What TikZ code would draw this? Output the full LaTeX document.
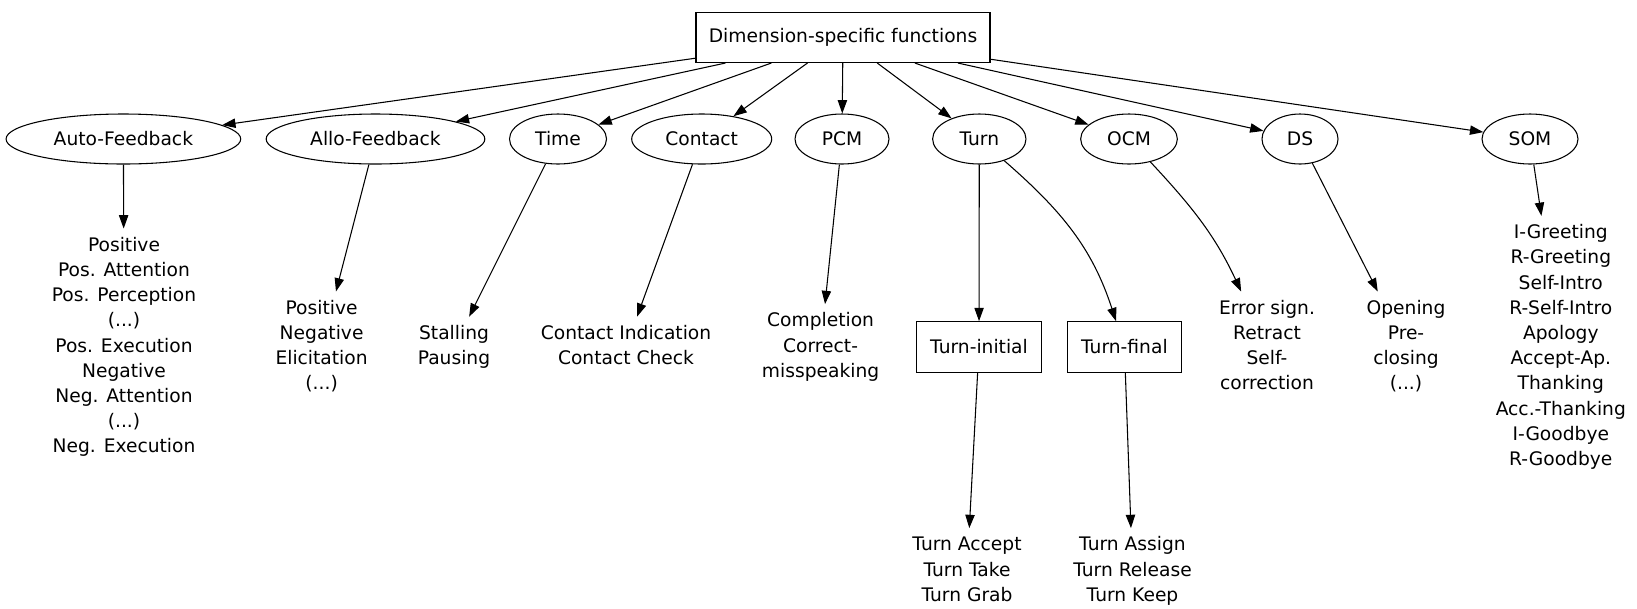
\documentclass[tikz,border=0pt]{standalone}
\usepackage{fontspec}
\setmainfont{DejaVu Sans}
\usetikzlibrary{arrows.meta,shapes.geometric,calc}
\begin{document}
\begin{tikzpicture}[x=0.75pt,y=-0.75pt,
 every node/.style={font=\fontsize{14pt}{18.9pt}\selectfont},
 box/.style={draw, rectangle, inner sep=0pt, line width=0.8pt},
 ell/.style={draw, ellipse, inner sep=0pt, minimum height=37.5pt, line width=0.8pt},
 tnode/.style={align=center, inner xsep=4pt, inner ysep=3.6pt},
 arr/.style={draw, line width=0.8pt, -{Triangle[length=10pt,width=7pt]}},
]
\useasboundingbox (0,0) rectangle (1637,608);
\node[box, minimum width=220.5pt, minimum height=37.5pt] (root) at (843,37.5) {Dimension-specific functions};

\node[ell, minimum width=176pt] (auto) at (123.4,139) {Auto-Feedback};
\node[ell, minimum width=164pt] (allo) at (375.5,139) {Allo-Feedback};
\node[ell, minimum width=72.75pt] (time) at (558,139) {Time};
\node[ell, minimum width=105pt] (cont) at (701.7,139) {Contact};
\node[ell, minimum width=70.5pt] (pcm) at (842,139) {PCM};
\node[ell, minimum width=70pt] (turn) at (979.3,139) {Turn};
\node[ell, minimum width=72.5pt] (ocm) at (1129,139) {OCM};
\node[ell, minimum width=57pt] (ds) at (1300,139) {DS};
\node[ell, minimum width=72pt] (som) at (1530,139) {SOM};

\node[tnode] (autoT) at (124,347) {\strut Positive\\Pos. Attention\\Pos. Perception\\(...)\\Pos. Execution\\Negative\\Neg. Attention\\(...)\\Neg. Execution\strut};
\node[tnode] (alloT) at (321.6,347) {\strut Positive\\Negative\\Elicitation\\(...)\strut};
\node[tnode] (timeT) at (454,347) {\strut Stalling\\Pausing\strut};
\node[tnode] (contT) at (626,347) {\strut Contact Indication\\Contact Check\strut};
\node[tnode] (pcmT) at (820.6,347) {\strut Completion\\Correct-\\misspeaking\strut};
\node[box, minimum width=94.1pt, minimum height=38pt] (ti) at (979,347) {Turn-initial};
\node[box, minimum width=86pt, minimum height=38pt] (tf) at (1124.4,347) {Turn-final};
\node[tnode] (ocmT) at (1267,347) {\strut Error sign.\\Retract\\Self-\\correction\strut};
\node[tnode] (dsT) at (1406,347) {\strut Opening\\Pre-\\closing\\(...)\strut};
\node[tnode] (somT) at (1560.8,347) {\strut I-Greeting\\R-Greeting\\Self-Intro\\R-Self-Intro\\Apology\\Accept-Ap.\\Thanking\\Acc.-Thanking\\I-Goodbye\\R-Goodbye\strut};
\node[tnode] (tiT) at (967,571) {\strut Turn Accept\\Turn Take\\Turn Grab\strut};
\node[tnode] (tfT) at (1132.5,571) {\strut Turn Assign\\Turn Release\\Turn Keep\strut};

\foreach \n in {auto,allo,time,cont,pcm,turn,ocm,ds,som}
  \draw[arr] (root) -- (\n);

\draw[arr] (auto) -- (autoT);
\draw[arr] (allo) -- (alloT);
\draw[arr] (time) -- (timeT);
\draw[arr] (cont) -- (contT);
\draw[arr] (pcm) -- (pcmT);
\draw[arr] (turn) -- (ti);
\draw[arr] (turn) to[out=-41,in=108] (tf);
\draw[arr] (ocm) to[out=-47,in=115] (ocmT);
\draw[arr] (ds) -- (dsT);
\draw[arr] (som) -- (somT);
\draw[arr] (ti) -- (tiT);
\draw[arr] (tf) -- (tfT);
\end{tikzpicture}
\end{document}
